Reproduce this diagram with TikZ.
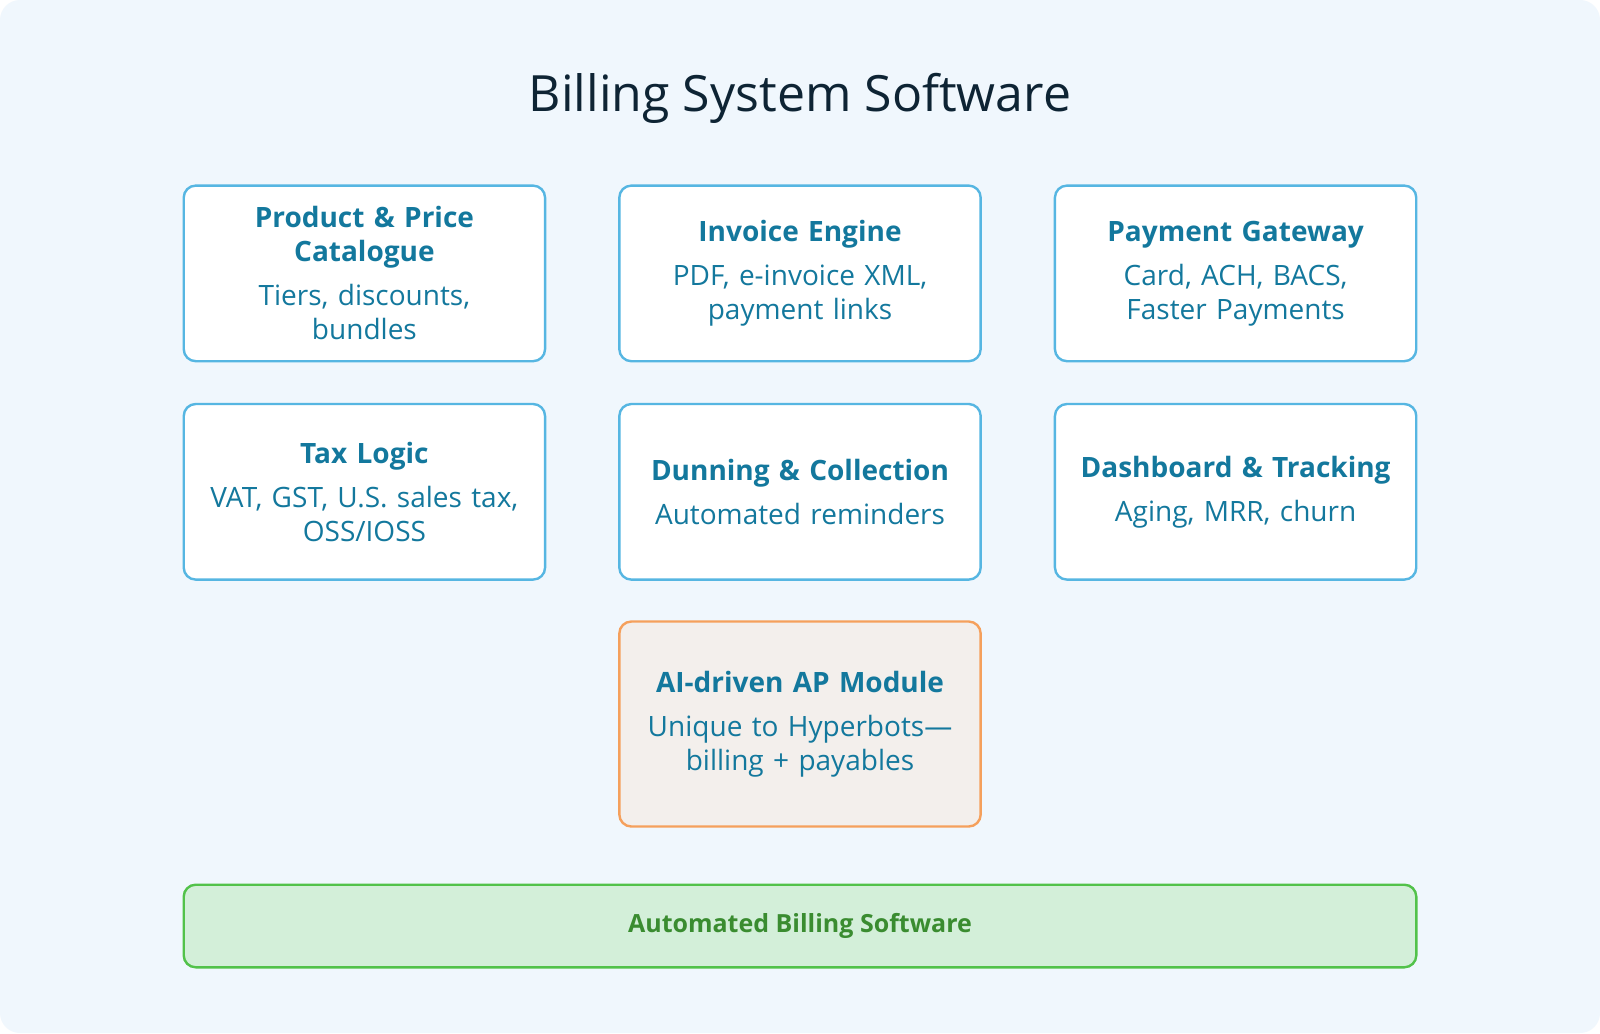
\documentclass[tikz,border=0pt]{standalone}
\usepackage{fontspec}
\setmainfont{Open Sans}
\usepackage{tikz}
\definecolor{bgblue}{HTML}{F0F7FD}
\definecolor{boxline}{HTML}{56B6E2}
\definecolor{boxtext}{HTML}{13789D}
\definecolor{titletext}{HTML}{0E2434}
\definecolor{apline}{HTML}{F5A05C}
\definecolor{apfill}{HTML}{F3EFEC}
\definecolor{swline}{HTML}{52C24A}
\definecolor{swfill}{HTML}{D3EFD9}
\definecolor{swtext}{HTML}{3A8C30}

\begin{document}
\begin{tikzpicture}[x=1pt, y=1pt,
  module/.style={draw=boxline, line width=1.2pt, fill=white, rounded corners=6pt,
    minimum width=180.6pt, minimum height=87.8pt, text width=174pt, align=center,
    text=boxtext, font=\fontsize{14}{17}\selectfont},
  apmodule/.style={module, draw=apline, fill=apfill, minimum height=102.5pt},
  basebar/.style={draw=swline, line width=1.2pt, fill=swfill, rounded corners=6pt,
    minimum width=616.3pt, minimum height=41.3pt, text=swtext,
    font=\fontsize{12.5}{14}\selectfont\bfseries}]

  \newcommand\X{217.8}
  \newcommand\Y{109.2}

  % page and panel
  \useasboundingbox (0,0) rectangle (800,-516.5);
  \fill[white] (0,0) rectangle (800,-516.5);
  \fill[bgblue, rounded corners=10pt] (0,0) rectangle (800,-516.5);

  \node[text=titletext, font=\fontsize{25}{30}\selectfont] (title) at (400,-49)
    {Billing System Software};

  % first row
  \node[module] (catalogue) at (400-\X, -136.7)
    {{\bfseries Product \& Price\\Catalogue}\\[5pt]Tiers, discounts,\\bundles};
  \node[module] (invoice) at (400, -136.7)
    {{\bfseries Invoice Engine}\\[5pt]PDF, e-invoice XML,\\payment links};
  \node[module] (gateway) at (400+\X, -136.7)
    {{\bfseries Payment Gateway}\\[5pt]Card, ACH, BACS,\\Faster Payments};

  % second row
  \node[module] (tax) at (400-\X, -136.7-\Y)
    {{\bfseries Tax Logic}\\[5pt]VAT, GST, U.S. sales tax,\\OSS/IOSS};
  \node[module] (dunning) at (400, -136.7-\Y)
    {{\bfseries Dunning \& Collection}\\[5pt]Automated reminders};
  \node[module] (dashboard) at (400+\X, -136.7-\Y)
    {{\bfseries Dashboard \& Tracking}\\[5pt]Aging, MRR, churn};

  \node[apmodule] (apmod) at (400, -362)
    {{\bfseries AI-driven AP Module}\\[5pt]Unique to Hyperbots---\\billing + payables};

  \node[basebar] (billing) at (400, -463) {Automated Billing Software};
\end{tikzpicture}
\end{document}
